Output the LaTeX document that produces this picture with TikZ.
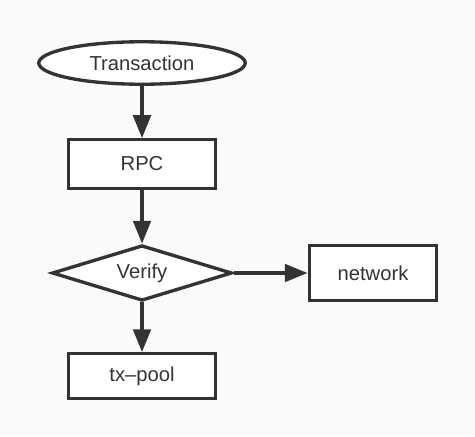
\documentclass[tikz,border=0pt]{standalone}
\usepackage{fontspec}
\setmainfont{Liberation Sans}
\usetikzlibrary{shapes.geometric,arrows.meta}
\begin{document}
\begin{tikzpicture} [x=0.02cm,y=-0.02cm]

    \definecolor{ink}{HTML}{333333};
    \definecolor{paper}{HTML}{FAFAFA};

    \tikzset{
      box/.style={draw=ink,fill=white,line width=1.9pt,text=ink,font=\fontsize{11.5}{13}\selectfont,inner sep=0pt},
      flow/.style={draw=ink,line width=1.9pt,-{Triangle[length=13pt,width=10pt]}}
    }

    % background, fixes the size of the page
    \fill[paper] (0,0) rectangle (475,436);

    %nodes
    \node (tx) at (142,63) [box,ellipse,minimum width=4.13cm,minimum height=0.85cm] {Transaction};
    \node (rpc) at (142,164) [box,rectangle,minimum width=2.95cm,minimum height=0.97cm] {RPC};
    \node (verify) at (142,273) [box,diamond,aspect=3.1,minimum width=3.6cm,minimum height=1.11cm] {Verify};
    \node (net) at (373,273) [box,rectangle,minimum width=2.55cm,minimum height=1.11cm] {network};
    \node (pool) at (142,376) [box,rectangle,minimum width=2.95cm,minimum height=0.89cm] {tx{\textendash}pool};

    %connectors
    \draw[flow] (tx) -- (rpc);
    \draw[flow] (rpc) -- (verify);
    \draw[flow] (verify) -- (net);
    \draw[flow] (verify) -- (pool);

\end{tikzpicture}
\end{document}
